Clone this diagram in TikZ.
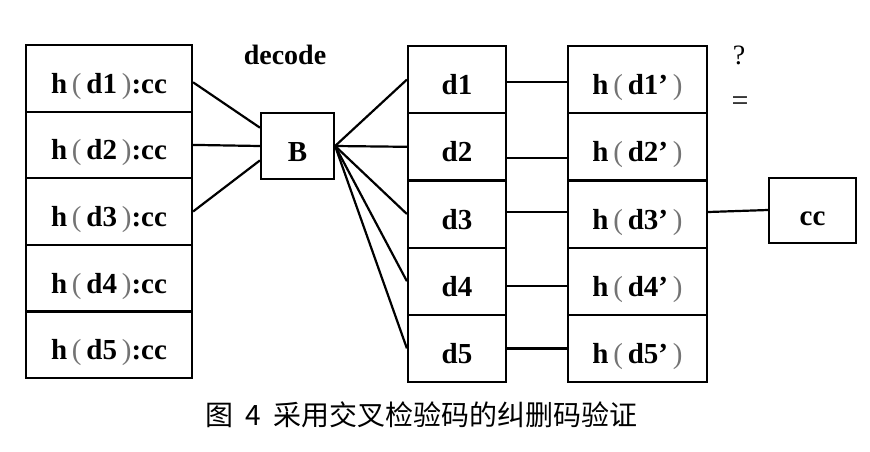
\documentclass[tikz,border=0pt]{standalone}
\usepackage{fontspec}
\setmainfont{Liberation Serif}
\newfontfamily\cjk{Noto Sans CJK SC}
\begin{document}
\begin{tikzpicture}[x=1pt,y=-1pt,
  cell/.style={draw,line width=2.2pt,rectangle,inner sep=0pt,text height=33pt,text depth=3pt,font=\bfseries\fontsize{29}{30}\selectfont},
  link/.style={line width=2.2pt},
  lbl/.style={inner sep=0pt,font=\bfseries\fontsize{28}{29}\selectfont}]
\useasboundingbox (0,0) rectangle (870,451);
\newcommand{\pl}{\,{\color{black!55}\mdseries(}\,}
\newcommand{\pr}{\,{\color{black!55}\mdseries)}}
% left column
\foreach \i/\y in {1/78.3,2/144.9,3/211.5,4/278.1,5/344.7}
  \node[cell,minimum width=166pt,minimum height=66.6pt] (L\i) at (109,\y) {h\pl d\i\pr:cc};
% B
\node[cell,minimum width=73pt,minimum height=66pt] (B) at (297.5,146) {B};
\node[lbl] (dec) at (285,55) {decode};
% d column
\foreach \i/\y in {1/79.6,2/146.8,3/214,4/281.2,5/348.4}
  \node[cell,minimum width=98pt,minimum height=67.2pt] (D\i) at (457,\y) {d\i};
% h column
\foreach \i/\y in {1/79.6,2/146.8,3/214,4/281.2,5/348.4}
  \node[cell,minimum width=139pt,minimum height=67.2pt] (H\i) at (637.5,\y) {h\pl d\i'\pr};
% cc
\node[cell,minimum width=87pt,minimum height=65pt] (cc) at (812.5,210.5) {cc};
\node[lbl,font=\fontsize{28}{29}\selectfont] (q) at (739,55) {?};
\node[lbl,font=\fontsize{30}{31}\selectfont] (eq) at (740,104) {=};
% connectors
\draw[link] ([yshift=-4pt]L1.east) -- (B.154);
\draw[link] (L2.east) -- (B.west);
\draw[link] (L3.east) -- (B.201);
\foreach \i in {1,...,5} \draw[link] (B.east) -- (D\i.west);
\draw[link] ([yshift=-2pt]D1.east) -- ([yshift=-2pt]H1.west);
\draw[link] ([yshift=-11pt]D2.east) -- ([yshift=-11pt]H2.west);
\draw[link] ([yshift=2pt]D3.east) -- ([yshift=2pt]H3.west);
\draw[link] ([yshift=-5pt]D4.east) -- ([yshift=-5pt]H4.west);
\draw[link] (D5.east) -- (H5.west);
\draw[link] ([yshift=2pt]H3.east) -- ([yshift=0.5pt]cc.west);
% caption
\node[inner sep=0pt,font=\cjk\fontsize{28}{30}\selectfont] (cap) at (421.5,415) {图\hspace{0.45em}4\hspace{0.45em}采用交叉检验码的纠删码验证};
\end{tikzpicture}
\end{document}
